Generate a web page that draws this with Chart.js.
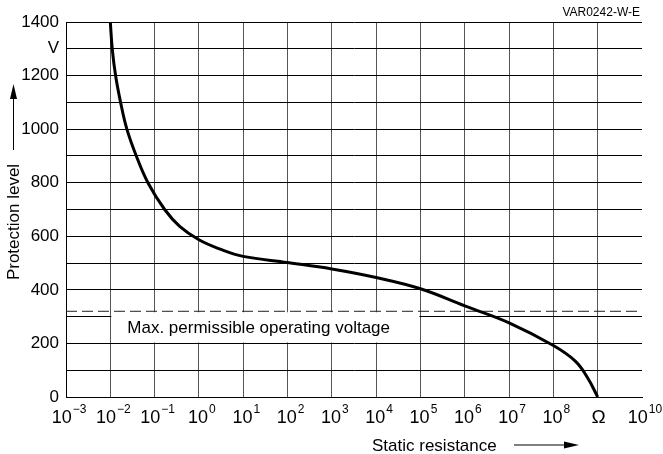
<!DOCTYPE html>
<html>
<head>
<meta charset="utf-8">
<script src="https://cdn.jsdelivr.net/npm/chart.js@4"></script>
<style>
  body { margin: 0; background: #fff; }
  #wrap { width: 663px; height: 454px; }
</style>
</head>
<body>
<div id="wrap"><canvas id="varChart" width="663" height="454"></canvas></div>
<script>
// static resistance in ohm (log axis) and protection level in V
const resistance = [0.01, 0.01106, 0.01315, 0.01706, 0.02366, 0.03861, 0.07063, 0.1686, 0.368, 1, 3.02, 10, 100, 1000, 1e4, 1e5, 1e6, 1e7, 1e8, 3.16e8, 6e8, 1e9];
const protectionLevel = [1400, 1300, 1200, 1100, 1000, 900, 800, 700, 637, 587, 552, 525, 502, 478, 446, 404, 340, 277, 192, 133, 70, 0];

const maxOperatingVoltage = 320;
const decades = [-3, -2, -1, 0, 1, 2, 3, 4, 5, 6, 7, 8, 9, 10];
const yTicks = [0, 200, 400, 600, 800, 1000, 1200, 1400];

const FONT = "'Liberation Sans', Arial, Helvetica, sans-serif";
const ctx = document.getElementById('varChart').getContext('2d');

function arrow(c, x1, y1, x2, y2) {
  const ang = Math.atan2(y2 - y1, x2 - x1);
  const len = 15, half = 3.5;
  c.save();
  c.strokeStyle = '#000';
  c.fillStyle = '#000';
  c.lineWidth = 1;
  c.beginPath();
  c.moveTo(x1, y1);
  c.lineTo(x2 - Math.cos(ang) * len, y2 - Math.sin(ang) * len);
  c.stroke();
  c.beginPath();
  c.moveTo(x2, y2);
  c.lineTo(x2 - Math.cos(ang) * len - Math.sin(ang) * half, y2 - Math.sin(ang) * len + Math.cos(ang) * half);
  c.lineTo(x2 - Math.cos(ang) * len + Math.sin(ang) * half, y2 - Math.sin(ang) * len - Math.cos(ang) * half);
  c.closePath();
  c.fill();
  c.restore();
}

const decorations = {
  id: 'decorations',
  beforeDatasetsDraw(chart) {
    const c = chart.ctx, x = chart.scales.x, y = chart.scales.y;
    // white label box under the dashed line
    const bx1 = x.getPixelForValue(1e-2) + 1;
    const bx2 = x.getPixelForValue(1e5) - 1;
    const by1 = y.getPixelForValue(maxOperatingVoltage) + 1;
    const by2 = y.getPixelForValue(200) - 1;
    c.save();
    c.fillStyle = '#fff';
    c.fillRect(bx1, by1, bx2 - bx1, by2 - by1);
    c.fillStyle = '#000';
    c.font = '17px ' + FONT;
    c.textBaseline = 'middle';
    c.fillText('Max. permissible operating voltage', bx1 + 16, (by1 + by2) / 2 + 1);
    c.restore();
  },
  afterDraw(chart) {
    const c = chart.ctx, x = chart.scales.x, area = chart.chartArea;
    c.save();
    c.fillStyle = '#000';
    c.textBaseline = 'alphabetic';
    // x tick labels with superscript exponents
    decades.forEach(e => {
      const px = x.getPixelForValue(Math.pow(10, e));
      if (e === 9) {
        c.font = '19px ' + FONT;
        c.textAlign = 'center';
        c.fillText('\u03A9', px + 1, area.bottom + 26);
        return;
      }
      const exp = e < 0 ? '\u2212' + (-e) : String(e);
      c.font = '18px ' + FONT;
      const wb = c.measureText('10').width;
      c.font = '12px ' + FONT;
      const we = c.measureText(exp).width;
      const left = px + 3 - (wb + we + 1) / 2;
      c.textAlign = 'left';
      c.font = '18px ' + FONT;
      c.fillText('10', left, area.bottom + 26);
      c.font = '12px ' + FONT;
      c.fillText(exp, left + wb + 1, area.bottom + 16);
    });
    // axis titles
    c.font = '17px ' + FONT;
    c.textAlign = 'left';
    c.fillText('Static resistance', 372, 451);
    arrow(c, 514, 445, 579, 445);
    c.save();
    c.translate(19, 222);
    c.rotate(-Math.PI / 2);
    c.textAlign = 'center';
    c.fillText('Protection level', 0, 0);
    c.restore();
    arrow(c, 13.5, 150, 13.5, 84);
    // drawing code
    c.font = '12px ' + FONT;
    c.textAlign = 'right';
    c.fillText('VAR0242-W-E', 640, 16);
    c.restore();
  }
};

new Chart(ctx, {
  type: 'line',
  data: {
    datasets: [{
      label: 'Protection level',
      data: resistance.map((r, i) => ({ x: r, y: protectionLevel[i] })),
      borderColor: '#000',
      borderWidth: 3,
      pointRadius: 0,
      tension: 0.4,
      fill: false
    }, {
      label: 'Max. permissible operating voltage',
      data: [{ x: 1e-3, y: maxOperatingVoltage }, { x: 1e10, y: maxOperatingVoltage }],
      borderColor: '#222',
      borderWidth: 1,
      borderDash: [11, 5],
      pointRadius: 0,
      fill: false
    }]
  },
  options: {
    responsive: false,
    animation: false,
    layout: { padding: { top: 22, right: 21, left: 0, bottom: 0 } },
    plugins: {
      legend: { display: false },
      tooltip: { enabled: false }
    },
    scales: {
      x: {
        type: 'logarithmic',
        min: 1e-3,
        max: 1e10,
        afterBuildTicks: (axis) => { axis.ticks = decades.map(e => ({ value: Math.pow(10, e) })); },
        afterFit: (scale) => { scale.height = 57; },
        ticks: { display: false },
        grid: {
          drawTicks: false,
          color: (c) => c.index === decades.length - 1 ? 'rgba(0,0,0,0)' : '#555',
          lineWidth: 1
        },
        border: { color: '#000', width: 1 }
      },
      y: {
        min: 0,
        max: 1400,
        afterFit: (scale) => { scale.width = 66; },
        ticks: {
          stepSize: 100,
          autoSkip: false,
          padding: 7,
          color: '#000',
          font: { family: FONT, size: 17 },
          callback: (v) => v === 1300 ? 'V' : (yTicks.includes(v) ? v : '')
        },
        grid: { drawTicks: false, color: '#000', lineWidth: 1 },
        border: { color: '#000', width: 1 }
      }
    }
  },
  plugins: [decorations]
});
</script>
</body>
</html>
